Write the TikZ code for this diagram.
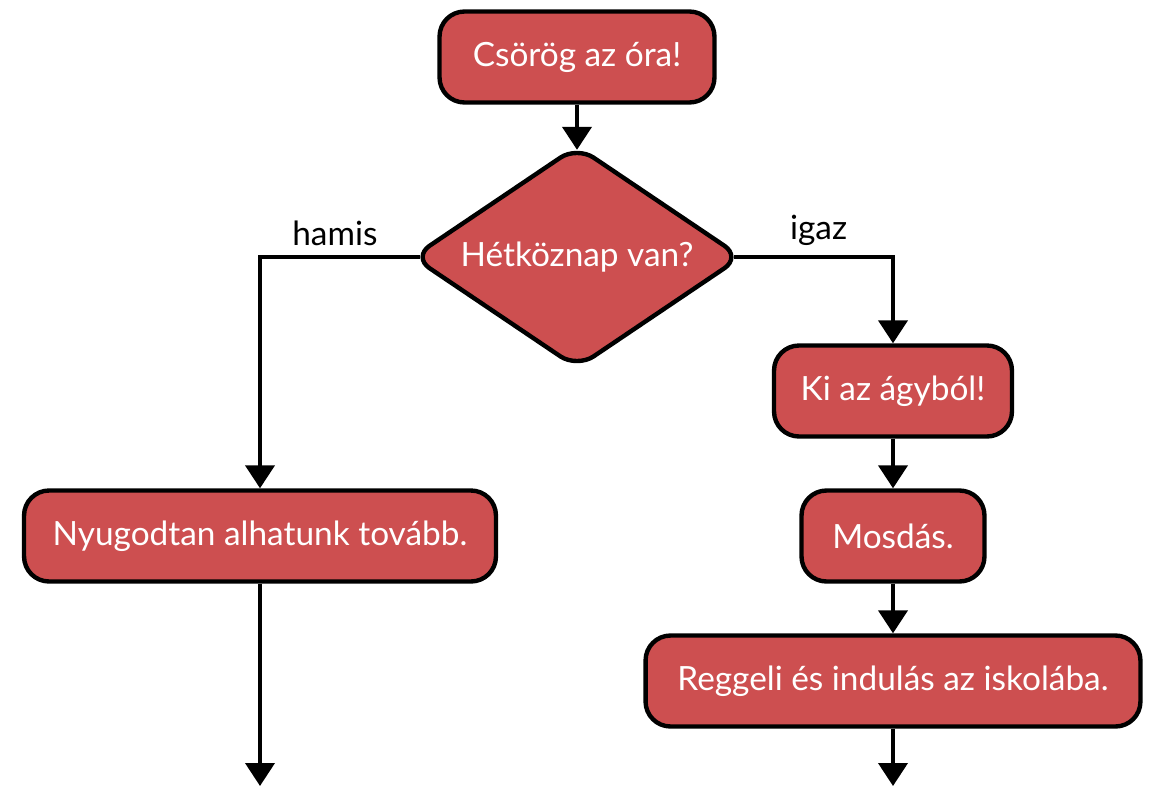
\documentclass[tikz,border=0pt]{standalone}
\usepackage{fontspec}
\setmainfont{Lato}
\usetikzlibrary{shapes.geometric,arrows.meta}
\definecolor{lepes}{RGB}{205,79,80}
\tikzset{
    szoveg/.style={font=\fontsize{19}{23}\selectfont},
    doboz/.style={szoveg, draw, line width=2.5pt, fill=lepes, text=white,
        rounded corners=0.5cm, minimum height=1.82cm, inner xsep=0.4cm},
    dontes/.style={szoveg, draw, diamond, aspect=1.5, line width=2.5pt,
        fill=lepes, text=white, rounded corners=0.4cm, inner sep=0,
        minimum width=6.6cm, minimum height=4.46cm},
    nyil/.style={line width=2.3pt, -{Triangle[width=0.58cm,length=0.46cm]}}
}
\begin{document}
\begin{tikzpicture}[x=0.02cm, y=-0.02cm]
    \useasboundingbox (0,0) rectangle (1153,788);
    % csomopontok
    \node[doboz, minimum width=5.5cm] (ora) at (577,57) {Csörög az óra!};
    \node[dontes] (het) at (577,257) {Hétköznap van?};
    \node[doboz, minimum width=9.44cm] (alszunk) at (260,536) {Nyugodtan alhatunk tovább.};
    \node[doboz, minimum width=4.76cm] (agy) at (893,391) {Ki az ágyból!};
    \node[doboz, minimum width=3.66cm] (mosdas) at (893,536) {Mosdás.};
    \node[doboz, minimum width=9.9cm] (reggeli) at (893,681) {Reggeli és indulás az iskolába.};
    % vegpontok
    \coordinate (vegeB) at (260,786);
    \coordinate (vegeJ) at (893,786);
    % nyilak
    \draw[nyil, shorten >=-0.13cm] (ora) -- (het);
    \draw[nyil, shorten <=-0.2cm] (het.west) -| (alszunk) node[szoveg, pos=0.25, above=2pt] {hamis};
    \draw[nyil, shorten <=-0.2cm] (het.east) -| (agy) node[szoveg, pos=0.25, above=2pt] {igaz};
    \draw[nyil] (agy) -- (mosdas);
    \draw[nyil] (mosdas) -- (reggeli);
    \draw[nyil] (alszunk) -- (vegeB);
    \draw[nyil] (reggeli) -- (vegeJ);
\end{tikzpicture}
\end{document}
